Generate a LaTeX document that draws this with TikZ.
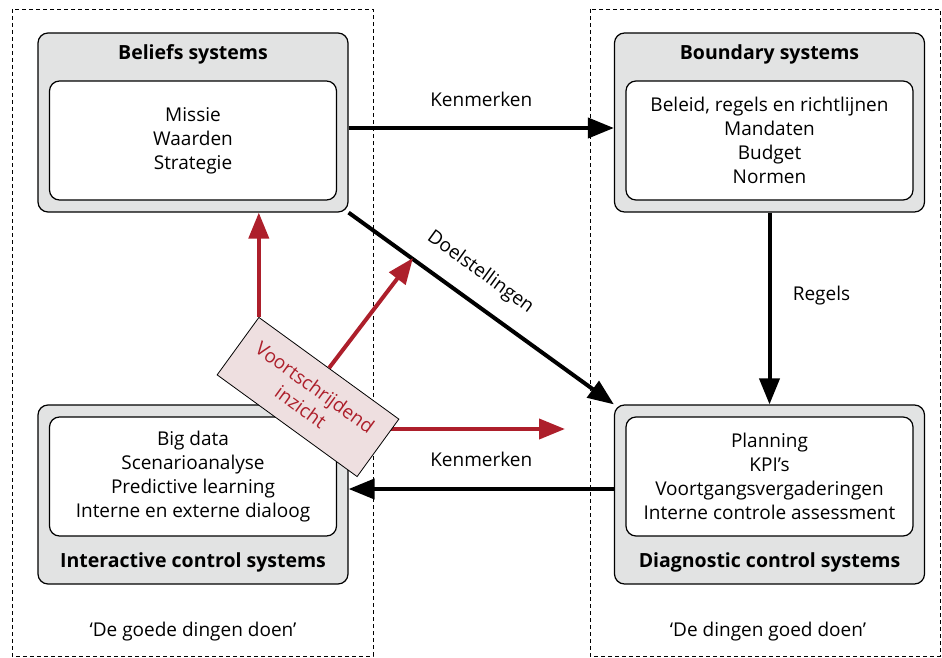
\documentclass[tikz,border=0pt]{standalone}
\usepackage{fontspec}
\setmainfont{Open Sans}
\usetikzlibrary{arrows.meta, positioning, backgrounds}

\definecolor{boxgray}{HTML}{E2E3E3}
\definecolor{inzichtred}{HTML}{AD1F2B}
\definecolor{inzichtpink}{HTML}{EEDFE0}

\begin{document}
\begin{tikzpicture}[x=1pt,y=-1pt,
        font=\fontsize{19}{24}\selectfont,
        outer box/.style={draw,line width=1.2pt,rounded corners=10pt,fill=boxgray,
            minimum width=310pt,minimum height=179pt,inner sep=0pt},
        inner box/.style={draw,line width=1.2pt,rounded corners=10pt,fill=white,
            minimum width=287pt,minimum height=119pt,inner sep=0pt,align=center},
        title/.style={font=\fontsize{19.5}{24}\selectfont\bfseries},
        frame/.style={dash pattern=on 4pt off 3pt,line width=0.9pt},
        flow/.style={line width=4pt,-{Triangle[length=26pt,width=20pt]}},
        insight/.style={flow,draw=inzichtred},
        insight box/.style={draw,line width=0.8pt,fill=inzichtpink,text=inzichtred,
            minimum width=173pt,minimum height=71pt,inner sep=0pt,align=center,rotate=-36}]
        \useasboundingbox (0,0) rectangle (942,658);
        \begin{scope}[on background layer]
        \draw[frame] (12,9) rectangle (373,656);
        \draw[frame] (590,9) rectangle (940,656);
        \end{scope}

        % de vier systemen
        \node[outer box] (beliefs) at (193,122.5) {};
        \node[title] at ([yshift=-22pt]beliefs.north) {Beliefs systems};
        \node[inner box, below=48pt of beliefs.north] (beliefstext) {Missie\\Waarden\\Strategie};

        \node[outer box] (boundary) at (769.5,122.5) {};
        \node[title] at ([yshift=-22pt]boundary.north) {Boundary systems};
        \node[inner box, below=48pt of boundary.north] (boundarytext)
            {Beleid, regels en richtlijnen\\Mandaten\\Budget\\Normen};

        \node[outer box] (interactive) at (193,494.5) {};
        \node[inner box, below=12pt of interactive.north] (interactivetext)
            {Big data\\Scenarioanalyse\\Predictive learning\\Interne en externe dialoog};
        \node[title] at ([yshift=22pt]interactive.south) {Interactive control systems};

        \node[outer box] (diagnostic) at (769.5,494.5) {};
        \node[inner box, below=12pt of diagnostic.north] (diagnostictext)
            {Planning\\KPI’s\\Voortgangsvergaderingen\\Interne controle assessment};
        \node[title] at ([yshift=22pt]diagnostic.south) {Diagnostic control systems};

        \draw[flow] ([yshift=-5.5pt]beliefs.east) -- ([yshift=-5.5pt]boundary.west)
            node[midway,yshift=29pt] {Kenmerken};
        \draw[flow] (boundary) -- (diagnostic)
            node[midway,xshift=52pt,yshift=12.5pt] {Regels};
        \draw[flow] (beliefs.south east) -- (diagnostic.north west)
            node[midway,xshift=-1pt,yshift=36pt,rotate=-36] {Doelstellingen};
        \draw[flow] ([yshift=5.5pt]diagnostic.west) -- ([yshift=5.5pt]interactive.east)
            node[midway,yshift=30pt] {Kenmerken};

        % voortschrijdend inzicht
        \node[insight box] (inzicht) at (308,397) {Voortschrijdend\\inzicht};
        \coordinate (tipB) at (413,258);
        \coordinate (tipC) at (565,429);
        \draw[insight] (inzicht.north west) -- (inzicht.north west |- beliefs.south);
        \draw[insight] (inzicht.north) -- (tipB);
        \begin{scope}[on background layer]
        \draw[insight] (inzicht |- tipC) -- (tipC);
        \end{scope}

        \node (goededingen) at (193,632) {‘De goede dingen doen’};
        \node (dingengoed) at (768,632) {‘De dingen goed doen’};
\end{tikzpicture}
\end{document}
